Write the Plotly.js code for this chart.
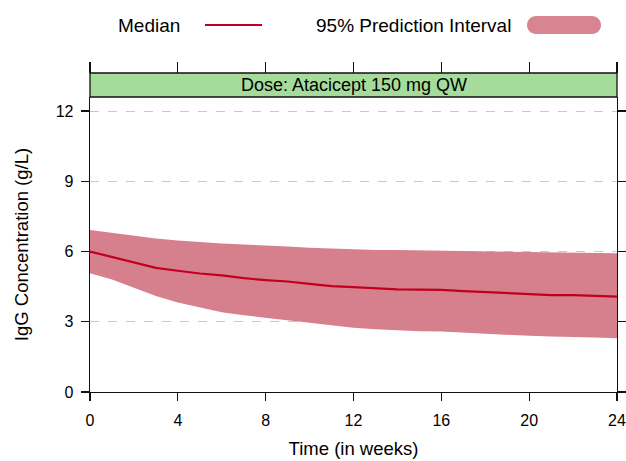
<!DOCTYPE html>
<html>
<head>
<meta charset="utf-8">
<script src="https://cdn.plot.ly/plotly-3.0.1.min.js"></script>
<style>html,body{margin:0;padding:0;background:#fff;}#chart{width:626px;height:461px;}</style>
</head>
<body>
<div id="chart"></div>
<script>
// Time in weeks
const weeks = [0,1,2,3,4,5,6,7,8,9,10,11,12,13,14,15,16,17,18,19,20,21,22,23,24];
// Median IgG concentration (g/L)
const median = [6.00,5.76,5.52,5.30,5.18,5.06,4.98,4.86,4.78,4.72,4.62,4.52,4.48,4.42,4.38,4.37,4.36,4.31,4.27,4.23,4.18,4.14,4.14,4.11,4.07];
// 95% prediction interval bounds
const upper = [6.92,6.80,6.67,6.56,6.47,6.40,6.34,6.30,6.27,6.21,6.16,6.12,6.09,6.07,6.06,6.05,6.04,6.02,6.00,5.98,5.97,5.96,5.95,5.94,5.93];
const lower = [5.07,4.80,4.45,4.10,3.82,3.60,3.41,3.28,3.17,3.06,2.94,2.82,2.74,2.68,2.63,2.60,2.58,2.53,2.47,2.43,2.40,2.37,2.36,2.33,2.30];
const xTicks = [0,4,8,12,16,20,24];
const yTicks = [0,3,6,9,12];
const panelTitle = "Dose: Atacicept 150 mg QW";
const legendLabels = ["Median", "95% Prediction Interval"];

const bandColor = "rgb(214,128,142)";
const lineColor = "#c0001e";
const font = "Liberation Sans, Arial, sans-serif";

const traces = [
  {x: weeks, y: lower, type: "scatter", mode: "lines", line: {width: 0, color: bandColor}, showlegend: false, hoverinfo: "skip"},
  {x: weeks, y: upper, type: "scatter", mode: "lines", fill: "tonexty", fillcolor: bandColor, line: {width: 0, color: bandColor}, showlegend: false},
  {x: weeks, y: median, type: "scatter", mode: "lines", line: {width: 2.2, color: lineColor}, showlegend: false},
  // invisible traces to carry the overlay axes
  {x: [weeks[0]], y: [median[0]], xaxis: "x2", yaxis: "y2", mode: "markers", marker: {opacity: 0}, showlegend: false, hoverinfo: "skip"}
];

const L = 90, R = 9, T = 73, B = 69, W = 626, H = 461;
const plotW = W - L - R, plotH = H - T - B;
const stripH = 24;
const yDomTop = (plotH - stripH) / plotH;
const px = v => (v - L) / plotW;
const py = v => (H - B - v) / plotH;

const layout = {
  width: W, height: H,
  margin: {l: L, r: R, t: T, b: B},
  paper_bgcolor: "#fff", plot_bgcolor: "#fff",
  font: {family: font, color: "#000", size: 16},
  showlegend: false,
  xaxis: {
    range: [0, 24], tickvals: xTicks, ticktext: xTicks.map(String),
    ticks: "outside", ticklen: 8, tickwidth: 1.3, tickcolor: "#111",
    showline: true, linecolor: "#111", linewidth: 1.3,
    showgrid: false, zeroline: false,
    tickfont: {size: 16, family: font, color: "#000"},
    ticklabelstandoff: 5,
    title: {text: "Time (in weeks)", font: {size: 18.5, family: font, color: "#000"}, standoff: 14},
    anchor: "y"
  },
  xaxis2: {
    range: [0, 24], tickvals: xTicks, overlaying: "x", side: "top", anchor: "free", position: 1,
    ticks: "outside", ticklen: 11, tickwidth: 1.3, tickcolor: "#111",
    showticklabels: false, showline: false, showgrid: false, zeroline: false
  },
  yaxis: {
    range: [0, 12.6], domain: [0, yDomTop], tickvals: yTicks, ticktext: yTicks.map(String),
    ticks: "outside", ticklen: 8, tickwidth: 1.3, tickcolor: "#111",
    showline: true, linecolor: "#111", linewidth: 1.3,
    showgrid: true, gridcolor: "#c8c8c8", gridwidth: 1, griddash: "dash",
    zeroline: false,
    tickfont: {size: 16, family: font, color: "#000"},
    ticklabelstandoff: 4,
    title: {text: "IgG Concentration (g/L)", font: {size: 18.5, family: font, color: "#000"}, standoff: 22}
  },
  yaxis2: {
    range: [0, 12.6], domain: [0, yDomTop], tickvals: yTicks, overlaying: "y", side: "right", anchor: "x",
    ticks: "outside", ticklen: 8, tickwidth: 1.3, tickcolor: "#111",
    showticklabels: false, showline: true, linecolor: "#111", linewidth: 1.3,
    showgrid: false, zeroline: false
  },
  shapes: [
    {type: "rect", xref: "paper", yref: "paper", x0: 0, x1: 1, y0: yDomTop, y1: 1,
     fillcolor: "#a5dc9c", line: {color: "#111", width: 1.3}, layer: "above"},
    {type: "line", xref: "paper", yref: "paper", x0: px(205), x1: px(262), y0: py(25), y1: py(25),
     line: {color: lineColor, width: 2}},
    {type: "path", xref: "paper", yref: "paper", xsizemode: "pixel", ysizemode: "pixel",
     xanchor: px(564), yanchor: py(25),
     path: "M -28,9 L 28,9 C 33,9 37,5 37,0 C 37,-5 33,-9 28,-9 L -28,-9 C -33,-9 -37,-5 -37,0 C -37,5 -33,9 -28,9 Z",
     fillcolor: "rgb(216,132,145)", line: {width: 0}}
  ],
  annotations: [
    {text: panelTitle, xref: "paper", yref: "paper", x: 0.5, y: (yDomTop + 1) / 2, xanchor: "center", yanchor: "middle",
     showarrow: false, font: {size: 18, family: font, color: "#000"}},
    {text: legendLabels[0], xref: "paper", yref: "paper", x: px(182), y: py(25), xanchor: "right", yanchor: "middle",
     showarrow: false, font: {size: 19, family: font, color: "#000"}},
    {text: legendLabels[1], xref: "paper", yref: "paper", x: px(513), y: py(25), xanchor: "right", yanchor: "middle",
     showarrow: false, font: {size: 19, family: font, color: "#000"}}
  ]
};

Plotly.newPlot("chart", traces, layout, {displayModeBar: false, staticPlot: true});
</script>
</body>
</html>
